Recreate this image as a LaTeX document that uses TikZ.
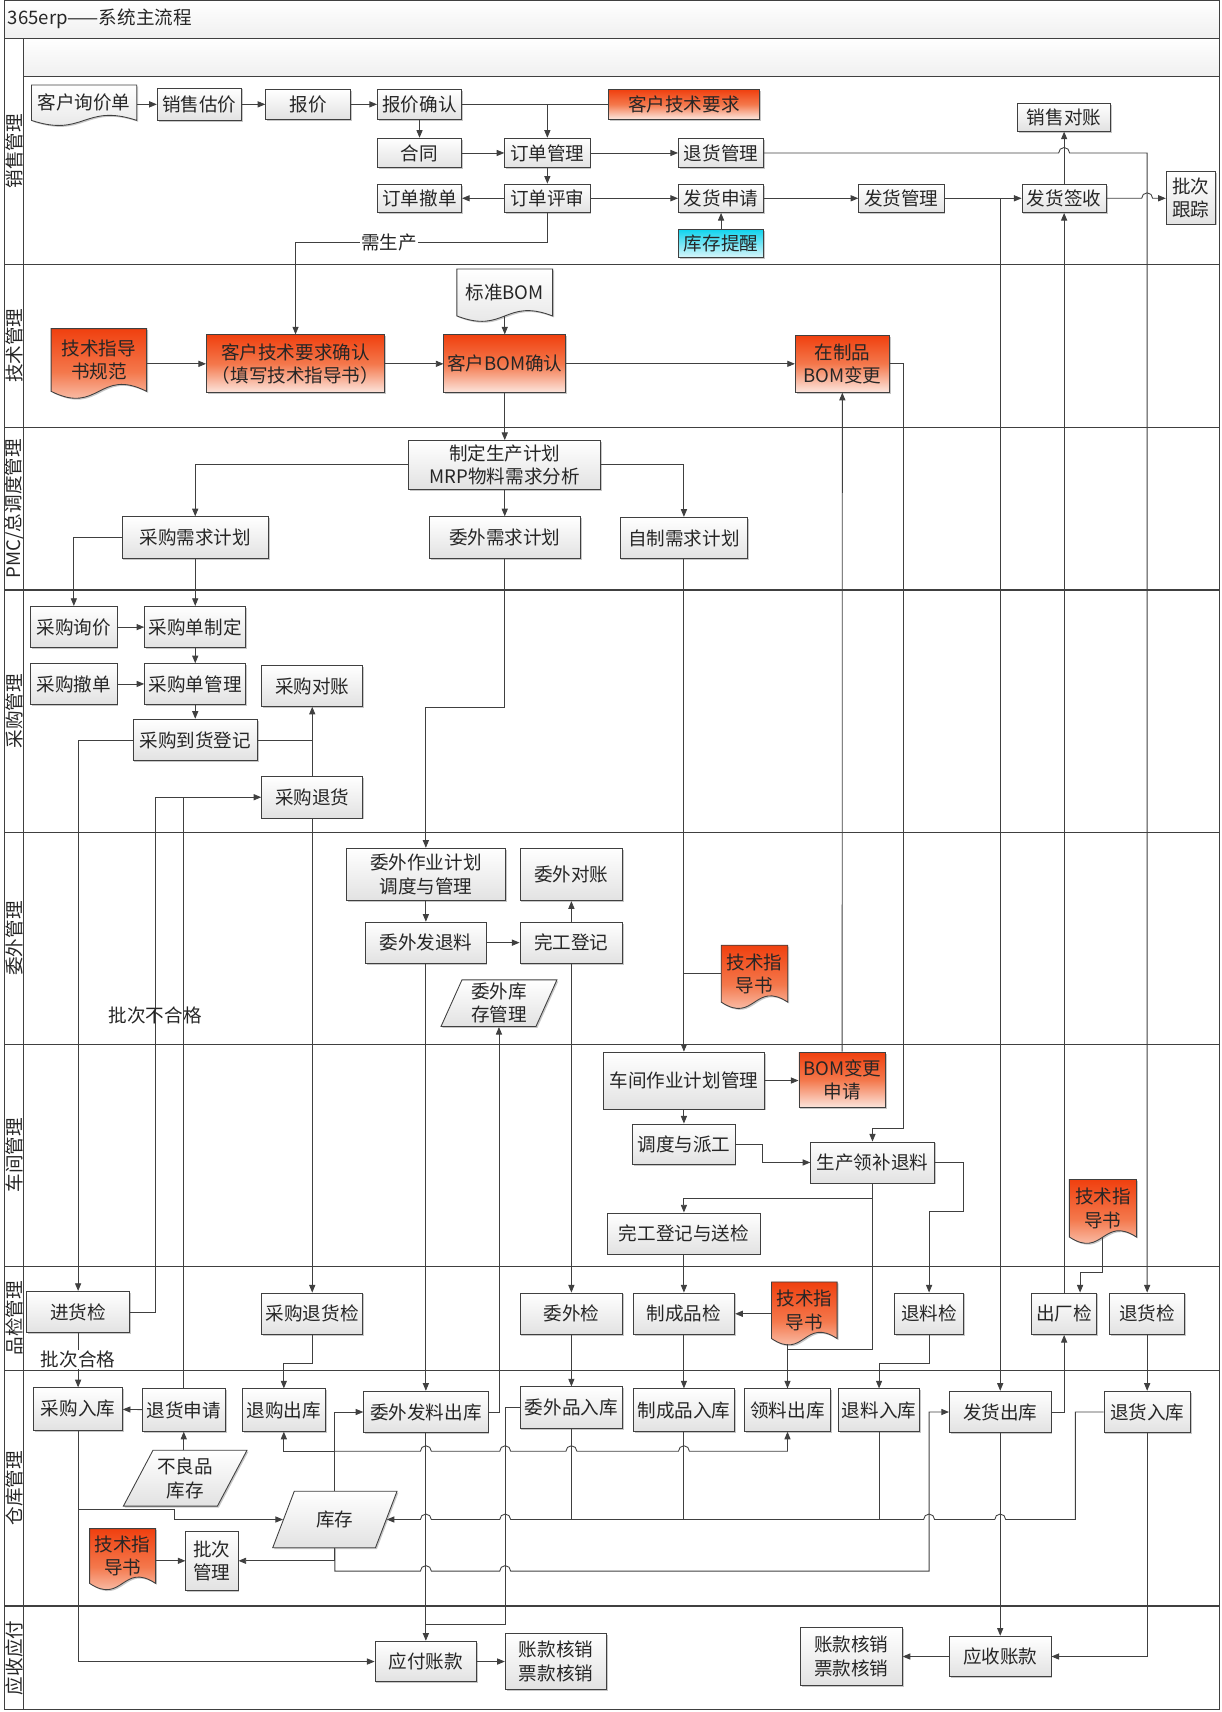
\documentclass[tikz,border=0pt]{standalone}
\usepackage{fontspec}
\setmainfont{Noto Sans CJK SC}
\usetikzlibrary{arrows.meta,shapes.geometric,shadows,calc}
\pgfdeclarelayer{back}
\pgfsetlayers{back,main}
\definecolor{linec}{HTML}{404040}
\definecolor{red1}{HTML}{F0400F}
\definecolor{red2}{HTML}{F4784C}
\definecolor{red3}{HTML}{FCE6DE}
\definecolor{cyan1}{HTML}{10D4EE}
\definecolor{cyan3}{HTML}{DCF6FA}
\definecolor{gray3}{HTML}{E2E2E2}
\newcommand\boxfont{\fontsize{17pt}{21.5pt}\selectfont}
\tikzset{
  sz/.style 2 args={minimum width=#1, minimum height=#2},
  hopr/.style args={#1,#2}{insert path={-- (#1-5,#2) arc[start angle=180, end angle=0, radius=5pt]}},
  hopl/.style args={#1,#2}{insert path={-- (#1+5,#2) arc[start angle=0, end angle=180, radius=5pt]}}}
% document shape with a wavy bottom, drawn round a named node
\newcommand\docshape[3]{%
  \path[myshadow, #3, draw=linec, line width=0.8pt] (#1.north west) -- (#1.north east) -- (#1.south east)
    .. controls ($(#1.south)+(0,-#2)$) and ($(#1.south)+(0,#2)$) .. (#1.south west) -- cycle;}

\begin{document}
\begin{tikzpicture}[x=1pt, y=-1pt,
  myshadow/.style={drop shadow={shadow xshift=1.3pt, shadow yshift=-1.3pt, opacity=0.22, fill=black}},
  mybox/.style={draw=linec, line width=0.8pt, top color=white, bottom color=gray3, text=black!85,
    font=\boxfont, align=center, inner sep=1pt, myshadow},
  myred/.style={mybox, top color=red1, bottom color=red3, middle color=red2},
  mycyan/.style={mybox, top color=cyan1, bottom color=cyan3},
  mydoc/.style={draw=none, text=black!85, font=\boxfont, align=center, inner sep=1pt},
  mypara/.style={trapezium, trapezium stretches=true, draw=linec, line width=0.8pt, top color=white,
    bottom color=gray3, text=black!85, font=\boxfont, align=center, inner sep=1pt, myshadow},
  graydoc/.style={top color=white, bottom color=gray3},
  reddoc/.style={top color=red1, bottom color=red3, middle color=red2},
  lane/.style={draw=linec, line width=1pt},
  plain/.style={draw=linec, line width=0.8pt},
  link/.style={draw=linec, line width=0.8pt, -{Triangle[length=7pt, width=5.6pt]}},
  tag/.style={font=\boxfont, text=black!85, inner sep=1pt}]
\useasboundingbox (0,0) rectangle (1118,1567);

% frame and lanes
\shade[top color=white, bottom color=gray!12] (4.3,0) rectangle (1116,35);
\shade[top color=white, bottom color=gray!12] (21.7,35) rectangle (1116,70);
\draw[lane] (4.3,0) rectangle (1116,1565);
\draw[lane] (4.3,35) -- (1116,35);
\draw[lane] (21.7,70) -- (1116,70);
\draw[lane] (21.7,35) -- (21.7,1565);
\foreach \y in {242,391,540,762,956,1159,1254,1470}
  \draw[lane] (4.3,\y) -- (1116,\y);
\node[tag, anchor=west] (title) at (6,17.5) {365erp——系统主流程};
\foreach \y/\t/\n in {138.5/销售管理/ln1, 316.5/技术管理/ln2, 651/采购管理/ln4, 859/委外管理/ln5,
    1057.5/车间管理/ln6, 1206.5/品检管理/ln7, 1362/仓库管理/ln8, 1517.5/应收应付/ln9}
  \node[tag, rotate=90] (\n) at (13,\y) {\t};
\node[tag, rotate=90] (ln3) at (13,465.5) {PMC/总调度管理};

% sales
\node[mydoc, sz={96}{32}] (xunjia) at (77,94) {客户询价单};
\node[mybox, sz={77}{30}] (gujia) at (182.5,95.5) {销售估价};
\node[mybox, sz={77.5}{27}] (baojia) at (282,95.5) {报价};
\node[mybox, sz={77}{27}] (bjqr) at (384,95.5) {报价确认};
\node[mybox, sz={77}{27}] (hetong) at (384,140) {合同};
\node[mybox, sz={78}{27}] (ddgl) at (501,140) {订单管理};
\node[mybox, sz={77}{26}] (ddcd) at (384,181.5) {订单撤单};
\node[mybox, sz={78}{26}] (ddps) at (501,181.5) {订单评审};
\node[myred, sz={138}{27}] (khyq) at (626,95.5) {客户技术要求};
\node[mybox, sz={78}{27}] (thgl) at (660,140) {退货管理};
\node[mybox, sz={78}{26}] (fhsq) at (660,181.5) {发货申请};
\node[mycyan, sz={78}{26}] (kctx) at (660,223) {库存提醒};
\node[mybox, sz={78}{26}] (fhgl) at (825,181.5) {发货管理};
\node[mybox, sz={77}{26}] (fhqs) at (974,181.5) {发货签收};
\node[mybox, sz={85}{25.5}] (xsdz) at (974,107.3) {销售对账};
\node[mybox, sz={45}{48}] (pcgz) at (1090,181) {批次\\跟踪};

% technology
\node[mydoc, sz={87}{57}] (jszf) at (90.5,329.5) {技术指导\\书规范};
\node[myred, sz={163}{53}] (khqr) at (270.5,333) {客户技术要求确认\\（填写技术指导书）};
\node[mydoc, sz={87.2}{42.6}] (bzbom) at (462,267.7) {标准BOM};
\node[myred, sz={111.4}{53}] (khbom) at (462,333) {客户BOM确认};
\node[myred, sz={86}{52}] (zzbom) at (771,333) {在制品\\BOM变更};

% planning
\node[mybox, sz={176}{44.5}] (scjh) at (462,425.5) {制定生产计划\\MRP物料需求分析};
\node[mybox, sz={134}{38}] (cgxq) at (178.7,492) {采购需求计划};
\node[mybox, sz={138}{38}] (wwxq) at (462,492) {委外需求计划};
\node[mybox, sz={117}{38}] (zzxq) at (626,492.5) {自制需求计划};

% purchasing
\node[mybox, sz={79}{38}] (cgxj) at (67.6,574) {采购询价};
\node[mybox, sz={92.6}{38}] (cgzd) at (178.7,574) {采购单制定};
\node[mybox, sz={79}{37}] (cgcd) at (67.6,626) {采购撤单};
\node[mybox, sz={92.6}{37}] (cgdgl) at (178.7,626) {采购单管理};
\node[mybox, sz={92.5}{37}] (cgdz) at (285.8,628) {采购对账};
\node[mybox, sz={114}{38}] (cgdh) at (178.7,677.3) {采购到货登记};
\node[mybox, sz={92.5}{38}] (cgth) at (285.8,729.7) {采购退货};

% outsourcing
\node[mybox, sz={145}{48}] (wwzy) at (389.8,800.4) {委外作业计划\\调度与管理};
\node[mybox, sz={94}{48}] (wwdz) at (523,800.4) {委外对账};
\node[mybox, sz={110}{37.5}] (wwfl) at (389.8,862.8) {委外发退料};
\node[mybox, sz={94}{37.5}] (wgdj) at (523,862.8) {完工登记};
\node[mypara, trapezium left angle=69, trapezium right angle=111, sz={106.5}{42.7}] (wwkc) at (456.7,918.2) {委外库\\存管理};
\node[mydoc, sz={60.5}{51.7}] (jsz2) at (690.6,891.2) {技术指\\导书};

% workshop
\node[mybox, sz={148}{52}] (cjjh) at (626,989) {车间作业计划管理};
\node[myred, sz={79}{51}] (bomsq) at (770.8,988.5) {BOM变更\\申请};
\node[mybox, sz={93.4}{37.2}] (ddpg) at (626,1047.4) {调度与派工};
\node[mybox, sz={113}{37.5}] (scll) at (798.6,1064) {生产领补退料};
\node[mybox, sz={139.3}{37.6}] (wgsj) at (626,1129) {完工登记与送检};
\node[mydoc, sz={61}{52.3}] (jsz3) at (1009.5,1105.9) {技术指\\导书};

% inspection
\node[mybox, sz={94.5}{38}] (jhj) at (71.5,1201) {进货检};
\node[mybox, sz={92.5}{38}] (cgthj) at (285.8,1202.5) {采购退货检};
\node[mybox, sz={94}{38}] (wwj) at (523,1202.5) {委外检};
\node[mybox, sz={93}{38}] (zcpj) at (626,1202.5) {制成品检};
\node[mydoc, sz={59.6}{51.4}] (jsz4) at (736.2,1199.3) {技术指\\导书};
\node[mybox, sz={63.5}{38}] (tlj) at (850.4,1202.5) {退料检};
\node[mybox, sz={59}{38}] (ccj) at (974,1202.5) {出厂检};
\node[mybox, sz={69}{38}] (thj) at (1050,1202.5) {退货检};

% warehouse
\node[mybox, sz={81}{38.7}] (cgrk) at (71.5,1289.6) {采购入库};
\node[mybox, sz={76}{38.8}] (thsq) at (168.2,1290.6) {退货申请};
\node[mybox, sz={76}{38.8}] (tgck) at (259.8,1290.6) {退购出库};
\node[mybox, sz={113.8}{38}] (wwck) at (389.8,1292.4) {委外发料出库};
\node[mybox, sz={94}{38.4}] (wwrk) at (523,1288.6) {委外品入库};
\node[mybox, sz={93}{38.8}] (zcprk) at (626,1290.6) {制成品入库};
\node[mybox, sz={79.3}{38.8}] (llck) at (720.8,1290.6) {领料出库};
\node[mybox, sz={73.8}{38.8}] (tlrk) at (804.6,1290.6) {退料入库};
\node[mybox, sz={93}{38}] (fhck) at (915.5,1292.4) {发货出库};
\node[mybox, sz={79}{38}] (thrk) at (1050,1292.4) {退货入库};
\node[mypara, trapezium left angle=58.2, trapezium right angle=121.8, sz={113.3}{51.2}] (blkc) at (169.5,1353) {不良品\\库存};
\node[mypara, trapezium left angle=61.6, trapezium right angle=118.4, sz={114}{51.8}] (kucun) at (306.5,1390.8) {库存};
\node[mydoc, sz={60}{49.7}] (jsz5) at (112.2,1424.2) {技术指\\导书};
\node[mybox, sz={47.8}{54.3}] (pcgl) at (194,1428.6) {批次\\管理};

% payables and receivables
\node[mybox, sz={93}{37.2}] (yfzk) at (389.8,1520.8) {应付账款};
\node[mybox, sz={93}{51.2}] (hx1) at (509,1520.8) {账款核销\\票款核销};
\node[mybox, sz={93}{37.2}] (yszk) at (915.5,1516.2) {应收账款};
\node[mybox, sz={93}{53.3}] (hx2) at (779.3,1516.2) {账款核销\\票款核销};

% document outlines
\begin{pgfonlayer}{back}
\docshape{xunjia}{16}{graydoc}
\docshape{bzbom}{17}{graydoc}
\docshape{jszf}{22}{reddoc}
\docshape{jsz2}{20}{reddoc}
\docshape{jsz3}{20}{reddoc}
\docshape{jsz4}{20}{reddoc}
\docshape{jsz5}{20}{reddoc}
\end{pgfonlayer}

% sales links
\draw[link] (xunjia.east |- gujia) -- (gujia);
\draw[link] (gujia) -- (baojia);
\draw[link] (baojia) -- (bjqr);
\draw[plain] (bjqr) -- (khyq);
\draw[link] (ddgl.north |- bjqr) -- (ddgl.north);
\draw[link] (bjqr) -- (hetong);
\draw[link] (hetong) -- (ddgl);
\draw[link] (ddgl) -- (ddps);
\draw[link] (ddps) -- (ddcd);
\draw[link] (ddgl) -- (thgl);
\draw[link] (ddps) -- (fhsq);
\draw[link] (kctx) -- (fhsq);
\draw[link] (fhsq) -- (fhgl);
\draw[link] (fhgl) -- (fhqs);
\draw[link] (fhck.north |- fhgl) -- (fhck.north);
\draw[link] (fhqs) -- (xsdz);
\draw[link] (thgl.east) [hopr={974,140}] -| (thj.north);
\draw[link] (fhqs.east) [hopr={1050,181.5}] -- (pcgz.west |- fhqs.east);
\draw[link] (ccj) -- (fhqs);
\draw[link] (ddps.south) -- ++(0,27) -| (khqr.north);
\node[tag, fill=white] (xsc) at (356,221.5) {需生产};

% technology links
\draw[link] (jszf.east |- khqr) -- (khqr);
\draw[link] (khqr) -- (khbom);
\draw[link] (bzbom.south) -- (khbom.north);
\draw[link] (khbom) -- (zzbom);
\draw[link] (khbom) -- (scjh);
\draw[link] (zzbom.east) -| (827,1032.5) -| (scll.north);
\draw[link] (bomsq) -- (zzbom);

% planning links
\draw[link] (scjh.west) -| (cgxq.north);
\draw[link] (scjh.east) -| (zzxq.north);
\draw[link] (scjh) -- (wwxq);
\draw[link] (cgxq.west) -| (cgxj.north);
\draw[link] (cgxq) -- (cgzd);
\draw[link] (wwxq.south) -- ++(0,136) -| (wwzy.north);
\draw[link] (zzxq) -- (cjjh);
\draw[plain] (jsz2.west) -- (jsz2.west -| zzxq.south);

% purchasing links
\draw[link] (cgxj) -- (cgzd);
\draw[link] (cgcd) -- (cgdgl);
\draw[link] (cgzd) -- (cgdgl);
\draw[link] (cgdgl) -- (cgdh);
\draw[link] (cgth) -- (cgdz);
\draw[plain] (cgdh.east) -- (cgdh.east -| cgth.north);
\draw[link] (cgdh.west) -| (jhj.north);
\draw[link] (jhj.east) -| (142.6,729.7) -- (cgth.west);
\node[tag] (bcbhg) at (142,929) {批次不合格};
\draw[plain] (thsq.north) -- (thsq.north |- cgth.west);
\draw[link] (cgth) -- (cgthj);

% outsourcing links
\draw[link] (wwzy) -- (wwfl);
\draw[link] (wwfl) -- (wgdj);
\draw[link] (wgdj) -- (wwdz);
\draw[link] (wwfl) -- (wwck);
\draw[link] (wgdj) -- (wwj);
\draw[link] (wwck.east) -| (wwkc.south);

% workshop links
\draw[link] (cjjh.east) -- (cjjh.east -| bomsq.west);
\draw[link] (cjjh) -- (ddpg);
\draw[link] (ddpg.east) -| (698,1064) -- (scll.west);
\draw[link] (scll.south) -- ++(0,14) -| (wgsj.north);
\draw[link] (scll.south) -- ++(0,152) -| (llck.north);
\draw[link] (scll.east) -| (881.6,1109) -| (tlj.north);
\draw[link] (jsz3.south) -- ++(0,32) -| ([xshift=14.6pt]ccj.north);
\draw[link] (wgsj) -- (zcpj);

% inspection links
\draw[link] (jhj) -- (cgrk);
\node[tag, fill=white] (bchg) at (71.5,1244.4) {批次合格};
\draw[link] (zcpj.east -| jsz4.west) -- (zcpj.east);
\draw[plain] ($(jsz4.south -| llck.north)+(0,5)$) -- ++(0,5);
\draw[link] (cgthj.south) -- ++(0,26) -| (tgck.north);
\draw[link] (tlj.south) -- ++(0,26) -| (tlrk.north);
\draw[link] (wwj) -- (wwrk);
\draw[link] (zcpj) -- (zcprk);
\draw[link] (thj) -- (thrk);

% warehouse links
\draw[link] (thsq) -- (cgrk);
\draw[link] (thsq.south |- blkc.north) -- (thsq.south);
\draw[link] (cgrk.south) |- (yfzk.west);
\draw[link] (cgrk.south |- 0,1381.6) -| (159.6,1390.8) -- (kucun.left side);
\draw[link] (kucun.north) |- (wwck.west);
\coordinate (kc1) at (306.5,1328.3);
\draw[link] (kc1) -| (tgck.south);
\draw[link] (kc1) [hopr={389.8,1328.3}] [hopr={462.4,1328.3}] [hopr={523,1328.3}] [hopr={626,1328.3}] -| (llck.south);
\draw[link] (thrk.west) -| (984.3,1390.8) [hopl={915.5,1390.8}] [hopl={850.4,1390.8}] [hopl={462.4,1390.8}] [hopl={389.8,1390.8}] -- (kucun.right side);
\draw[plain] (wwrk.south) -- (wwrk.south |- kucun.right side);
\draw[plain] (zcprk.south) -- (zcprk.south |- kucun.right side);
\draw[plain] (tlrk.south) -- (tlrk.south |- kucun.right side);
\draw[link] (kucun.south) |- (pcgl.east);
\draw[link] (kucun.south) -- (kucun.south |- 0,1438) [hopr={389.8,1438}] [hopr={462.4,1438}] -| (850.4,1292.4) -- (fhck.west);
\draw[link] (jsz5.east |- pcgl) -- (pcgl);
\draw[link] (fhck.east) -| (ccj.south);

% payables and receivables links
\draw[plain] (wwrk.west) -| (462.4,1486.9) -- (389.8,1486.9);
\draw[link] (wwck) -- (yfzk);
\draw[link] (yfzk) -- (hx1);
\draw[link] (fhck) -- (yszk);
\draw[link] (yszk) -- (hx2);
\draw[link] (thrk.south) |- (yszk.east);
\end{tikzpicture}
\end{document}
